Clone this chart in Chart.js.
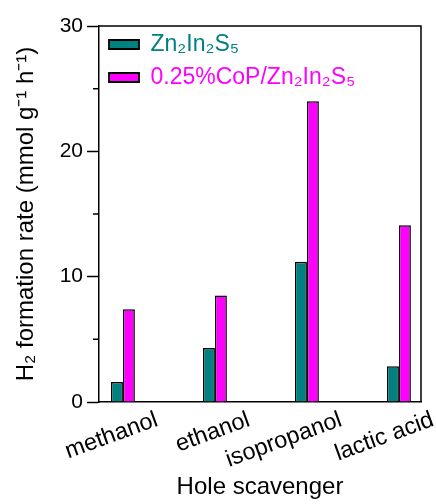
<!DOCTYPE html>
<html>
<head>
<meta charset="utf-8">
<script src="https://cdn.jsdelivr.net/npm/chart.js@4/dist/chart.umd.min.js"></script>
<style>
  html, body { margin: 0; padding: 0; background: #fff; }
  #wrap { width: 436px; height: 504px; }
</style>
</head>
<body>
<div id="wrap"><canvas id="c" width="436" height="504"></canvas></div>
<script>
const categories = ['methanol', 'ethanol', 'isopropanol', 'lactic acid'];
const seriesNames = ['Zn\u2082In\u2082S\u2085', '0.25%CoP/Zn\u2082In\u2082S\u2085'];
const pristineValues = [1.6, 4.3, 11.2, 2.85];
const copValues = [7.4, 8.5, 24.0, 14.1];
const yTickValues = [0, 10, 20, 30];
const yMinorTicks = [5, 15, 25];

const TEAL = '#008080';
const MAGENTA = '#ff00ff';
const FONT = '"Liberation Sans", Arial, Helvetica, sans-serif';

const toPoints = vals => vals.map((v, i) => ({ x: i, y: v }));

const framePlugin = {
  id: 'frame',
  afterLayout(chart) {
    const lg = chart.legend;
    if (lg) {
      const h = lg.bottom - lg.top;
      lg.top = chart.chartArea.top - 3;
      lg.bottom = lg.top + h;
    }
  },
  afterDraw(chart) {
    const { ctx, chartArea: a, scales } = chart;
    ctx.save();
    ctx.strokeStyle = '#000';
    ctx.lineWidth = 1.5;
    ctx.beginPath();
    ctx.moveTo(a.left, a.top);
    ctx.lineTo(a.right, a.top);
    ctx.lineTo(a.right, a.bottom);
    ctx.stroke();
    // minor ticks on y axis
    ctx.beginPath();
    yMinorTicks.forEach(v => {
      const y = scales.y.getPixelForValue(v);
      ctx.moveTo(a.left - 6, y);
      ctx.lineTo(a.left, y);
    });
    ctx.stroke();
    ctx.restore();
  }
};

new Chart(document.getElementById('c'), {
  type: 'bar',
  data: {
    datasets: [
      {
        label: seriesNames[0],
        data: toPoints(pristineValues),
        backgroundColor: TEAL,
        borderColor: '#000',
        borderWidth: 1.5,
        categoryPercentage: 0.26,
        barPercentage: 1.0
      },
      {
        label: seriesNames[1],
        data: toPoints(copValues),
        backgroundColor: MAGENTA,
        borderColor: '#000',
        borderWidth: 1.5,
        categoryPercentage: 0.26,
        barPercentage: 1.0
      }
    ]
  },
  options: {
    responsive: false,
    animation: false,
    devicePixelRatio: 1,
    layout: { padding: { top: 26, right: 15, left: 0, bottom: 0 } },
    plugins: {
      tooltip: { enabled: false },
      legend: {
        position: 'chartArea',
        align: 'start',
        labels: {
          boxWidth: 30,
          boxHeight: 9,
          padding: 10,
          font: { family: FONT, size: 23 },
          generateLabels(chart) {
            const items = Chart.defaults.plugins.legend.labels.generateLabels(chart);
            const cols = [TEAL, MAGENTA];
            items.forEach((it, i) => { it.fontColor = cols[i]; it.lineWidth = 1.8; });
            return items;
          }
        }
      }
    },
    scales: {
      x: {
        type: 'linear',
        min: -0.26,
        max: 3.24,
        offset: false,
        afterBuildTicks(scale) {
          scale.ticks = categories.map((c, i) => ({ value: i }));
        },
        afterFit(scale) { scale.height = 102; },
        ticks: {
          autoSkip: false,
          minRotation: 20,
          maxRotation: 20,
          labelOffset: 34,
          padding: -4,
          color: '#000',
          font: { family: FONT, size: 23.5 },
          callback: (v) => categories[v]
        },
        grid: { display: false },
        border: { display: true, color: '#000', width: 1.5 },
        title: {
          display: true,
          text: 'Hole scavenger',
          color: '#000',
          font: { family: FONT, size: 24 },
          padding: { top: 0, bottom: 2 }
        }
      },
      y: {
        min: 0,
        max: 30,
        afterBuildTicks(scale) {
          scale.ticks = yTickValues.map(v => ({ value: v }));
        },
        afterFit(scale) { scale.width = 99; },
        ticks: {
          padding: 4,
          color: '#000',
          font: { family: FONT, size: 21 }
        },
        grid: {
          drawOnChartArea: false,
          drawTicks: true,
          tickLength: 12,
          tickColor: '#000',
          tickWidth: 1.5
        },
        border: { display: true, color: '#000', width: 1.5 },
        title: {
          display: true,
          text: 'H\u2082 formation rate (mmol g\u207B\u00B9 h\u207B\u00B9)',
          color: '#000',
          font: { family: FONT, size: 24 },
          padding: { top: 12, bottom: 0 }
        }
      }
    }
  },
  plugins: [framePlugin]
});
</script>
</body>
</html>
